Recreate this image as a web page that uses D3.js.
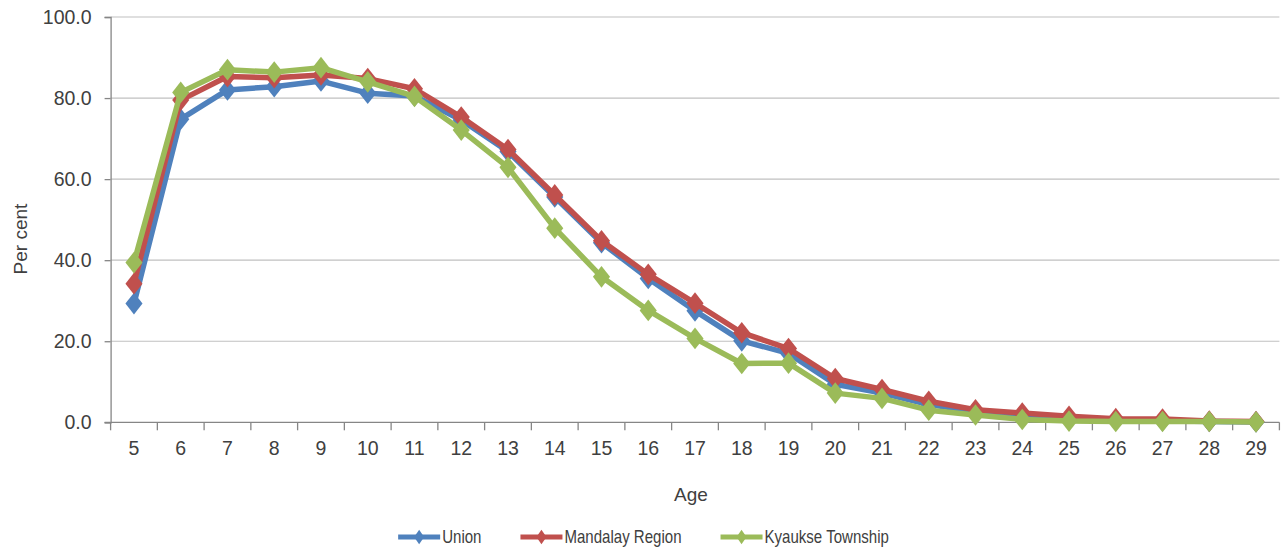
<!DOCTYPE html>
<html>
<head>
<meta charset="utf-8">
<script src="https://cdn.jsdelivr.net/npm/d3@7"></script>
<style>
  html, body { margin: 0; padding: 0; background: #ffffff; }
  svg { display: block; }
  text { font-family: "Liberation Sans", Arial, sans-serif; fill: #404040; }
</style>
</head>
<body>
<svg id="chart" width="1285" height="551"></svg>
<script>
// Age categories on the x axis
const ages = ["5","6","7","8","9","10","11","12","13","14","15","16","17","18","19","20","21","22","23","24","25","26","27","28","29"];

// Per cent by age, one array per area
const unionValues    = [29.3, 74.8, 82.0, 82.8, 84.2, 81.2, 80.5, 74.6, 66.8, 55.6, 44.3, 35.5, 27.5, 20.1, 17.0, 9.4, 7.2, 4.4, 2.7, 1.5, 0.8, 0.5, 0.4, 0.2, 0.1];
const mandalayValues = [34.2, 79.5, 85.3, 85.0, 85.7, 84.8, 82.3, 75.3, 67.3, 56.1, 44.8, 36.5, 29.4, 22.1, 18.2, 10.8, 8.1, 5.2, 3.1, 2.3, 1.5, 0.9, 0.8, 0.3, 0.2];
const kyaukseValues  = [39.4, 81.4, 87.0, 86.4, 87.5, 84.0, 80.4, 72.1, 62.9, 47.9, 35.9, 27.6, 20.7, 14.5, 14.6, 7.2, 5.9, 3.0, 1.8, 0.7, 0.3, 0.2, 0.2, 0.2, 0.1];

const seriesNames = ["Union", "Mandalay Region", "Kyaukse Township"];
const yTicks = [0, 20, 40, 60, 80, 100];

const series = [
  { name: seriesNames[0], values: unionValues,    color: "#4F81BD" },
  { name: seriesNames[1], values: mandalayValues, color: "#C0504D" },
  { name: seriesNames[2], values: kyaukseValues,  color: "#9BBB59" }
];

const svg = d3.select("#chart");
const plot = { left: 110.6, right: 1279.4, top: 17, bottom: 422.3 };

const x = d3.scaleBand().domain(ages).range([plot.left, plot.right]).padding(0);
const y = d3.scaleLinear().domain([0, 100]).range([plot.bottom, plot.top]);
const cx = d => x(d) + x.bandwidth() / 2;

// Horizontal gridlines
svg.append("g")
  .selectAll("line")
  .data(yTicks.filter(t => t > 0))
  .join("line")
  .attr("x1", plot.left).attr("x2", plot.right)
  .attr("y1", d => y(d)).attr("y2", d => y(d))
  .attr("stroke", "#c0c0c0").attr("stroke-width", 1.2);

// Y axis
const yAxis = svg.append("g")
  .attr("transform", `translate(${plot.left},0)`)
  .call(d3.axisLeft(y).tickValues(yTicks).tickFormat(d3.format(".1f")).tickSize(6).tickPadding(13));
yAxis.select(".domain").attr("stroke", "#868686").attr("stroke-width", 1.3);
yAxis.selectAll(".tick line").attr("stroke", "#868686").attr("stroke-width", 1.3);
yAxis.selectAll(".tick text")
  .style("font-family", "'Liberation Sans', Arial, sans-serif")
  .style("font-size", "19.5px").attr("fill", "#404040");

// X axis: ticks sit on category boundaries, labels at category centres
const xAxisG = svg.append("g").attr("transform", `translate(0,${plot.bottom})`);
xAxisG.append("line")
  .attr("x1", plot.left - 6).attr("x2", plot.right)
  .attr("stroke", "#868686").attr("stroke-width", 1.3);
const boundaries = ages.map(a => x(a)).concat([x(ages[ages.length - 1]) + x.bandwidth()]);
xAxisG.selectAll("line.tick")
  .data(boundaries)
  .join("line")
  .attr("class", "tick")
  .attr("x1", d => d).attr("x2", d => d)
  .attr("y1", 0).attr("y2", 8)
  .attr("stroke", "#868686").attr("stroke-width", 1.3);
xAxisG.selectAll("text")
  .data(ages)
  .join("text")
  .attr("x", d => cx(d))
  .attr("y", 26)
  .attr("dy", "0.35em")
  .attr("text-anchor", "middle")
  .style("font-size", "19.5px")
  .text(d => d);

// Axis titles
svg.append("text")
  .attr("transform", "translate(20,239) rotate(-90)")
  .attr("text-anchor", "middle")
  .attr("dy", "0.35em")
  .style("font-size", "19px")
  .text("Per cent");
svg.append("text")
  .attr("x", 691).attr("y", 494)
  .attr("text-anchor", "middle")
  .attr("dy", "0.35em")
  .style("font-size", "19px")
  .text("Age");

// Lines and diamond markers
const line = d3.line().x((d, i) => cx(ages[i])).y(d => y(d));
const diamond = d3.symbol().type(d3.symbolDiamond).size(150);

series.forEach(s => {
  const g = svg.append("g");
  g.append("path")
    .datum(s.values)
    .attr("d", line)
    .attr("fill", "none")
    .attr("stroke", s.color)
    .attr("stroke-width", 5.5)
    .attr("stroke-linejoin", "round");
  g.selectAll("path.marker")
    .data(s.values)
    .join("path")
    .attr("class", "marker")
    .attr("transform", (d, i) => `translate(${cx(ages[i])},${y(d)}) scale(1.3,0.95)`)
    .attr("d", diamond)
    .attr("fill", s.color);
});

// Legend, centred under the chart; labels are horizontally condensed
const textScale = 0.86;
const legend = svg.append("g");
const items = legend.selectAll("g").data(series).join("g");
items.append("line")
  .attr("x1", 0).attr("x2", 42).attr("y1", 0).attr("y2", 0)
  .attr("stroke", d => d.color).attr("stroke-width", 5);
items.append("path")
  .attr("transform", "translate(21,0) scale(1.2,1)")
  .attr("d", d3.symbol().type(d3.symbolDiamond).size(60))
  .attr("fill", d => d.color);
items.append("text")
  .attr("transform", `translate(44,0) scale(${textScale},1)`)
  .attr("dy", "0.35em")
  .style("font-size", "17.5px")
  .text(d => d.name);

let offset = 0;
const widths = [];
items.each(function() { widths.push(44 + textScale * this.querySelector("text").getComputedTextLength()); });
const gap = 39;
const total = d3.sum(widths) + gap * (widths.length - 1);
items.attr("transform", (d, i) => {
  const t = `translate(${offset},0)`;
  offset += widths[i] + gap;
  return t;
});
legend.attr("transform", `translate(${(1285 - total) / 2 + 1},537)`);
</script>
</body>
</html>
